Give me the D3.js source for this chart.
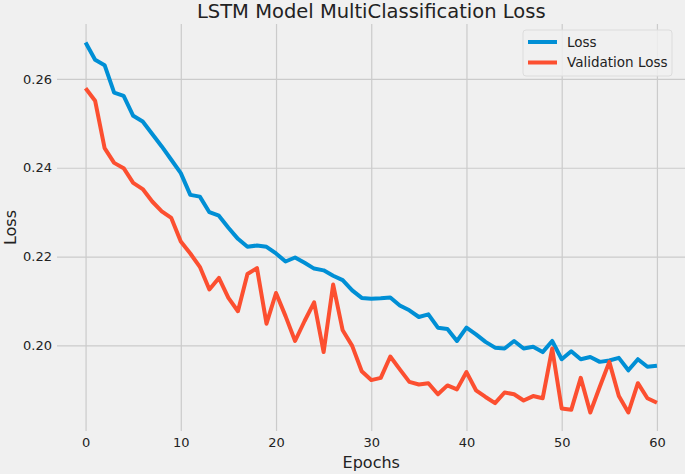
<!DOCTYPE html>
<html>
<head>
<meta charset="utf-8">
<script src="https://cdn.jsdelivr.net/npm/d3@7"></script>
<style>
  html, body { margin: 0; padding: 0; background: #f0f0f0; }
  svg { display: block; }
  text { font-family: "DejaVu Sans", sans-serif; fill: #222; }
</style>
</head>
<body>
<svg id="chart" width="685" height="474"></svg>
<script>
const title = "LSTM Model MultiClassification Loss";
const xLabel = "Epochs";
const yLabel = "Loss";
const seriesNames = ["Loss", "Validation Loss"];
const seriesColors = ["#008fd5", "#fc4f30"];

const epochs = d3.range(0, 61);
const loss = [
  0.2682, 0.2643, 0.2631, 0.2569, 0.2562, 0.2517, 0.2504, 0.2476, 0.2448, 0.2418,
  0.2388, 0.2339, 0.2335, 0.2300, 0.2292, 0.2265, 0.2240, 0.2222, 0.2225, 0.2222,
  0.2207, 0.2189, 0.2198, 0.2186, 0.2173, 0.2169, 0.2157, 0.2147, 0.2124, 0.2107,
  0.2105, 0.2106, 0.2108, 0.2090, 0.2079, 0.2064, 0.2070, 0.2040, 0.2037, 0.2010,
  0.2040, 0.2025, 0.2008, 0.1995, 0.1993, 0.2010, 0.1993, 0.1997, 0.1985, 0.2010,
  0.1969, 0.1987, 0.1969, 0.1974, 0.1963, 0.1966, 0.1972, 0.1944, 0.1969, 0.1952,
  0.1954
];
const valLoss = [
  0.2579, 0.2551, 0.2444, 0.2411, 0.2399, 0.2366, 0.2352, 0.2324, 0.2302, 0.2287,
  0.2234, 0.2207, 0.2177, 0.2126, 0.2152, 0.2107, 0.2077, 0.2161, 0.2174, 0.2049,
  0.2118, 0.2066, 0.2010, 0.2055, 0.2097, 0.1985, 0.2137, 0.2034, 0.1999, 0.1942,
  0.1922, 0.1927, 0.1975, 0.1946, 0.1918, 0.1912, 0.1915, 0.1890, 0.1910, 0.1901,
  0.1940, 0.1899, 0.1884, 0.1870, 0.1894, 0.1890, 0.1876, 0.1886, 0.1881, 0.1993,
  0.1858, 0.1855, 0.1927, 0.1849, 0.1907, 0.1963, 0.1886, 0.1849, 0.1915, 0.1881,
  0.1871
];
const xTicks = [0, 10, 20, 30, 40, 50, 60];
const yTicks = [0.20, 0.22, 0.24, 0.26];

const svg = d3.select("#chart");
const W = 685, H = 474;
const plot = { left: 57, right: 685.5, top: 24, bottom: 431 };

svg.append("rect").attr("width", W).attr("height", H).attr("fill", "#f0f0f0");

// matplotlib-like 5% margins
const xExt = d3.extent(epochs);
const xPad = (xExt[1] - xExt[0]) * 0.05;
const allY = loss.concat(valLoss);
const yExt = d3.extent(allY);
const yPad = (yExt[1] - yExt[0]) * 0.05;

const x = d3.scaleLinear().domain([xExt[0] - xPad, xExt[1] + xPad]).range([plot.left, plot.right]);
const y = d3.scaleLinear().domain([yExt[0] - yPad, yExt[1] + yPad]).range([plot.bottom, plot.top]);

// grid via axes
const gx = svg.append("g").attr("transform", `translate(0,${plot.bottom})`)
  .call(d3.axisBottom(x).tickValues(xTicks).tickFormat(d3.format("d"))
    .tickSize(-(plot.bottom - plot.top)).tickPadding(6));
gx.select(".domain").remove();
gx.selectAll(".tick line").attr("stroke", "#cbcbcb").attr("stroke-width", 1.2);
gx.selectAll(".tick text").attr("font-size", 13).attr("fill", "#222")
  .attr("font-family", "DejaVu Sans, sans-serif").attr("dy", "0.71em").attr("y", 7);

const gy = svg.append("g").attr("transform", `translate(${plot.left},0)`)
  .call(d3.axisLeft(y).tickValues(yTicks).tickFormat(d3.format(".2f"))
    .tickSize(-(plot.right - plot.left)).tickPadding(5));
gy.select(".domain").remove();
gy.selectAll(".tick line").attr("stroke", "#cbcbcb").attr("stroke-width", 1.2);
gy.selectAll(".tick text").attr("font-size", 13).attr("fill", "#222")
  .attr("font-family", "DejaVu Sans, sans-serif");

// lines
const series = [loss, valLoss];
const line = d3.line().x((d, i) => x(epochs[i])).y(d => y(d));
series.forEach((s, k) => {
  svg.append("path").datum(s)
    .attr("fill", "none")
    .attr("stroke", seriesColors[k])
    .attr("stroke-width", 4)
    .attr("stroke-linejoin", "round")
    .attr("stroke-linecap", "butt")
    .attr("d", line);
});

// title and labels
svg.append("text").attr("x", (plot.left + plot.right) / 2).attr("y", 18)
  .attr("text-anchor", "middle").attr("font-size", 19.5).text(title);
svg.append("text").attr("x", (plot.left + plot.right) / 2).attr("y", 468)
  .attr("text-anchor", "middle").attr("font-size", 16).text(xLabel);
svg.append("text").attr("transform", `translate(16,${(plot.top + plot.bottom) / 2}) rotate(-90)`)
  .attr("text-anchor", "middle").attr("font-size", 16).text(yLabel);

// legend
const lg = svg.append("g");
lg.append("rect").attr("x", 523).attr("y", 30).attr("width", 149).attr("height", 46)
  .attr("rx", 3).attr("fill", "#f0f0f0").attr("fill-opacity", 0.85)
  .attr("stroke", "#dcdcdc").attr("stroke-width", 1);
seriesNames.forEach((name, i) => {
  const cy = 42 + i * 20.5;
  lg.append("line").attr("x1", 528).attr("x2", 557).attr("y1", cy).attr("y2", cy)
    .attr("stroke", seriesColors[i]).attr("stroke-width", 4);
  lg.append("text").attr("x", 567).attr("y", cy).attr("dy", "0.35em")
    .attr("font-size", 13.5).text(name);
});
</script>
</body>
</html>
